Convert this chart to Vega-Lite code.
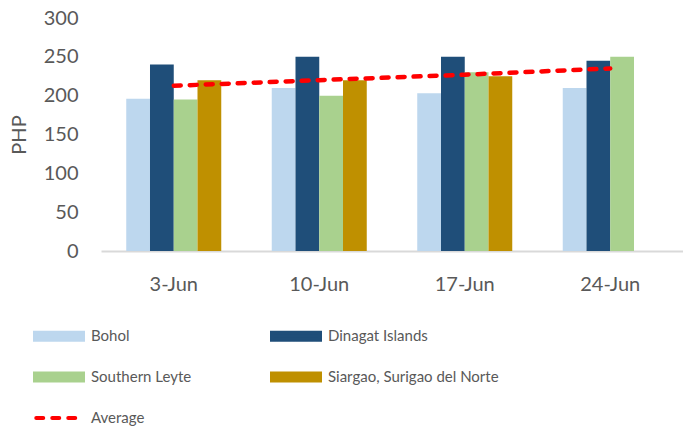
{
  "$schema": "https://vega.github.io/schema/vega-lite/v6.json",
  "width": 582,
  "height": 233,
  "autosize": {"type": "none"},
  "padding": {"left": 101, "top": 18, "right": 0, "bottom": 180},
  "config": {"view": {"stroke": null}, "font": "Lato"},
  "datasets": {
    "bars": [
      {"week": "3-Jun", "region": "Bohol", "price": 196},
      {"week": "3-Jun", "region": "Dinagat Islands", "price": 240},
      {"week": "3-Jun", "region": "Southern Leyte", "price": 195},
      {"week": "3-Jun", "region": "Siargao, Surigao del Norte", "price": 220},
      {"week": "10-Jun", "region": "Bohol", "price": 210},
      {"week": "10-Jun", "region": "Dinagat Islands", "price": 250},
      {"week": "10-Jun", "region": "Southern Leyte", "price": 200},
      {"week": "10-Jun", "region": "Siargao, Surigao del Norte", "price": 220},
      {"week": "17-Jun", "region": "Bohol", "price": 203},
      {"week": "17-Jun", "region": "Dinagat Islands", "price": 250},
      {"week": "17-Jun", "region": "Southern Leyte", "price": 230},
      {"week": "17-Jun", "region": "Siargao, Surigao del Norte", "price": 225},
      {"week": "24-Jun", "region": "Bohol", "price": 210},
      {"week": "24-Jun", "region": "Dinagat Islands", "price": 245},
      {"week": "24-Jun", "region": "Southern Leyte", "price": 250}
    ],
    "avg": [
      {"week": "3-Jun", "region": "Average", "price": 212.75},
      {"week": "10-Jun", "region": "Average", "price": 220},
      {"week": "17-Jun", "region": "Average", "price": 227},
      {"week": "24-Jun", "region": "Average", "price": 235}
    ]
  },
  "encoding": {
    "x": {
      "field": "week", "type": "nominal",
      "sort": ["3-Jun", "10-Jun", "17-Jun", "24-Jun"],
      "scale": {"domain": ["3-Jun", "10-Jun", "17-Jun", "24-Jun"], "paddingInner": 0.347, "paddingOuter": 0.1735},
      "title": null,
      "axis": {"labelAngle": 0, "labelFontSize": 20, "labelColor": "#595959", "ticks": false, "tickSize": 0, "domainColor": "#d9d9d9", "domainWidth": 2, "labelPadding": 23, "labelOverlap": false}
    },
    "y": {
      "field": "price", "type": "quantitative",
      "scale": {"domain": [0, 300]},
      "title": "PHP",
      "axis": {"values": [0, 50, 100, 150, 200, 250, 300], "labelOverlap": false, "grid": false, "domain": false, "ticks": false, "tickSize": 0, "labelFontSize": 20, "labelColor": "#595959", "labelPadding": 23, "titleFontSize": 20, "titleFontWeight": "normal", "titleColor": "#595959", "titlePadding": 14}
    },
    "color": {
      "field": "region", "type": "nominal",
      "scale": {
        "domain": ["Bohol", "Dinagat Islands", "Southern Leyte", "Siargao, Surigao del Norte", "Average"],
        "range": ["#BDD7EE", "#1F4E79", "#A9D18E", "#BF9000", "#FF0000"]
      },
      "legend": {
        "orient": "none",
        "legendX": -68,
        "legendY": 303,
        "columns": 2,
        "direction": "horizontal",
        "title": null,
        "padding": 0,
        "symbolType": "M-1.846,-0.27H1.846V0.27H-1.846Z",
        "symbolSize": 676,
        "symbolStrokeWidth": 4,
        "symbolOffset": 11,
        "labelOffset": 17,
        "labelFontSize": 15,
        "labelColor": "#595959",
        "labelLimit": 400,
        "columnPadding": 72,
        "rowPadding": 14,
        "encode": {
          "symbols": {
            "update": {
              "shape": {"signal": "datum.value === 'Average' ? 'M-1.75,0H1.75' : 'M-1.846,-0.27H1.846V0.27H-1.846Z'"},
              "fill": {"signal": "datum.value === 'Average' ? 'transparent' : scale('color', datum.value)"},
              "stroke": {"signal": "scale('color', datum.value)"},
              "strokeDash": {"signal": "datum.value === 'Average' ? [7, 9] : [1, 0]"},
              "strokeCap": {"signal": "datum.value === 'Average' ? 'round' : 'butt'"},
              "opacity": {"value": 1}
            }
          }
        }
      }
    }
  },
  "layer": [
    {
      "data": {"name": "bars"},
      "mark": {"type": "bar"},
      "encoding": {
        "xOffset": {
          "field": "region", "type": "nominal",
          "scale": {"domain": ["Bohol", "Dinagat Islands", "Southern Leyte", "Siargao, Surigao del Norte"], "paddingInner": 0, "paddingOuter": 0}
        }
      }
    },
    {
      "data": {"name": "avg"},
      "mark": {"type": "line", "strokeWidth": 4.5, "strokeDash": [7, 9], "strokeCap": "round"}
    }
  ]
}
